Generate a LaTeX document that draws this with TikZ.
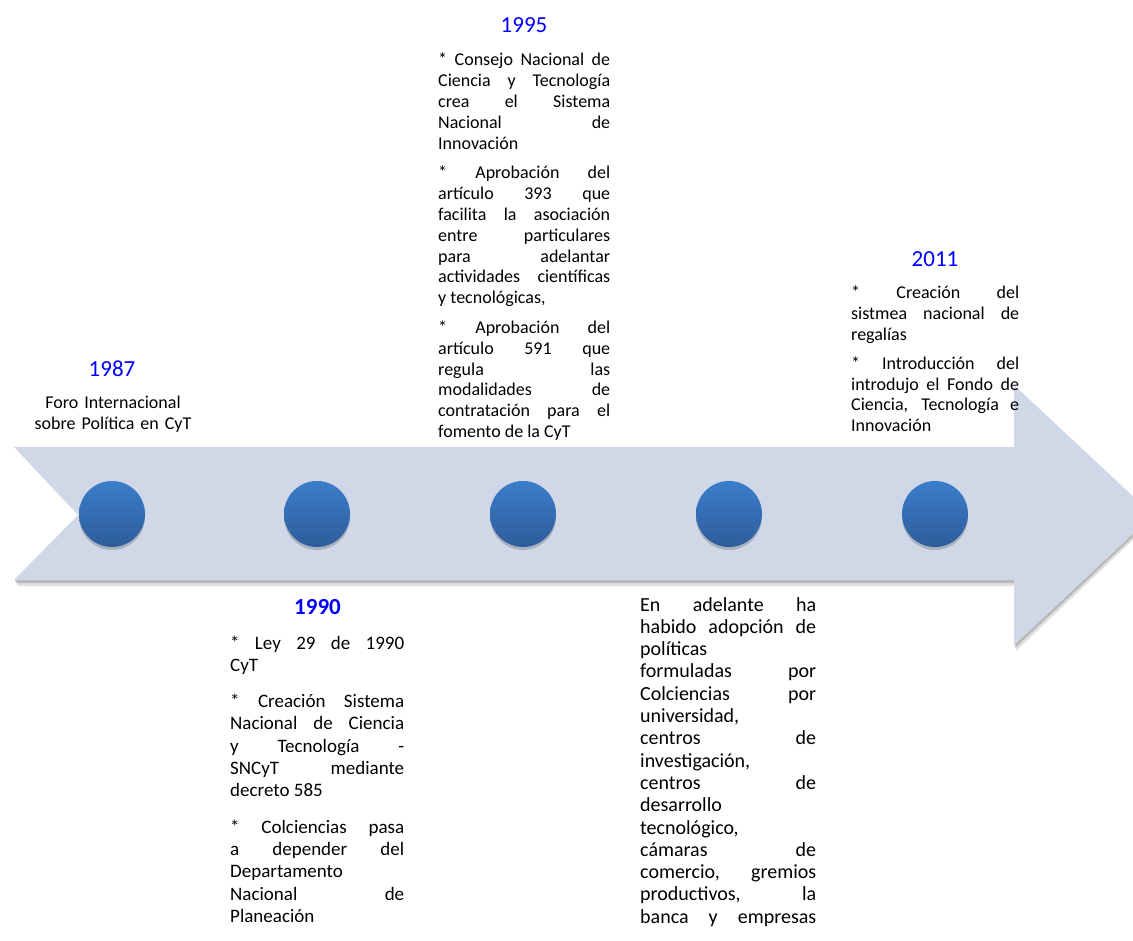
\documentclass[tikz,border=0pt]{standalone}
\usepackage{fontspec}
\setmainfont{Carlito}
\usetikzlibrary{shadows}
\definecolor{arrowfill}{HTML}{D0D8E8}
\definecolor{yearblue}{HTML}{0000FF}
\definecolor{dotlight}{HTML}{3B7DCB}
\definecolor{dotdark}{HTML}{2D5D9B}

\begin{document}
\begin{tikzpicture}[x=1pt,y=-1pt,
    year/.style={text=yearblue, inner sep=0pt, anchor=base, font=\fontsize{23}{27}\selectfont},
    event/.style={text width=166pt, align=justify, inner sep=0pt, anchor=base west},
    dotmark/.style={circle, minimum size=66pt, inner sep=0pt, draw=none,
      top color=dotlight, bottom color=dotdark,
      drop shadow={shadow xshift=0pt, shadow yshift=-3pt, fill=black, opacity=0.18}}]
		\clip (0,0) rectangle (1133,941);
		% shadow under the arrow, then the arrow
		\fill[black, opacity=0.12] (16,580) -- (1014,580) -- (1014,645) -- (1153,515) -- (1153,521) -- (1016,651) -- (1016,586) -- (18,586) -- cycle;
		\fill[black, opacity=0.18] (15,580) -- (1014,580) -- (1014,645) -- (1153,515) -- (1153,518) -- (1015,648) -- (1015,583) -- (16,583) -- cycle;
		\fill[arrowfill] (14,447) -- (1014,447) -- (1014,385) -- (1153,515) -- (1014,645) -- (1014,580) -- (14,580) -- (78,515) -- cycle;
		\foreach \px [count=\i] in {112,317,523,729,935}{
			\node[dotmark] (dot\i) at (\px,514) {};
		}
		% years
		\node[year] (y1987) at (112,377) {1987};
		\node[year, font=\fontsize{23}{27}\selectfont\bfseries] (y1990) at (317.5,614) {1990};
		\node[year] (y1995) at (524,33) {1995};
		\node[year] (y2011) at (935,267) {2011};
		% texts
		\node[event, align=center, anchor=base, font=\fontsize{18}{21.5}\selectfont] (t1987) at (113,408)
			{Foro Internacional\\sobre Política en CyT};
		\node[event, text width=174pt, font=\fontsize{19}{22.3}\selectfont\setlength{\parskip}{14pt}] (t1990) at (230,649)
			{* Ley 29 de 1990\linebreak CyT\par
			 * Creación Sistema\linebreak Nacional de Ciencia\linebreak y Tecnología -\linebreak SNCyT mediante\linebreak decreto 585\par
			 * Colciencias pasa\linebreak a depender del\linebreak Departamento\linebreak Nacional de\linebreak Planeación};
		\node[event, text width=172pt, font=\fontsize{18}{20.8}\selectfont\setlength{\parskip}{9pt}] (t1995) at (438,66)
			{* Consejo Nacional de\linebreak Ciencia y Tecnología\linebreak crea el Sistema\linebreak Nacional de\linebreak Innovación\par
			 * Aprobación del\linebreak artículo 393 que\linebreak facilita la asociación\linebreak entre particulares\linebreak para adelantar\linebreak actividades científicas\linebreak y tecnológicas,\par
			 * Aprobación del\linebreak artículo 591 que\linebreak regula las\linebreak modalidades de\linebreak contratación para el\linebreak fomento de la CyT};
		\node[event, text width=176pt, font=\fontsize{20}{22.3}\selectfont] (tlater) at (640,611)
			{En adelante ha\linebreak habido adopción de\linebreak políticas\linebreak formuladas por\linebreak Colciencias por\linebreak universidad,\linebreak centros de\linebreak investigación,\linebreak centros de\linebreak desarrollo\linebreak tecnológico,\linebreak cámaras de\linebreak comercio, gremios\linebreak productivos, la\linebreak banca y empresas\linebreak};
		\node[event, text width=168pt, font=\fontsize{18}{20.6}\selectfont\setlength{\parskip}{9pt}] (t2011) at (851,299)
			{* Creación del\linebreak sistmea nacional de\linebreak regalías\par
			 * Introducción del\linebreak introdujo el Fondo de\linebreak Ciencia, Tecnología e\linebreak Innovación};
	\end{tikzpicture}
\end{document}
